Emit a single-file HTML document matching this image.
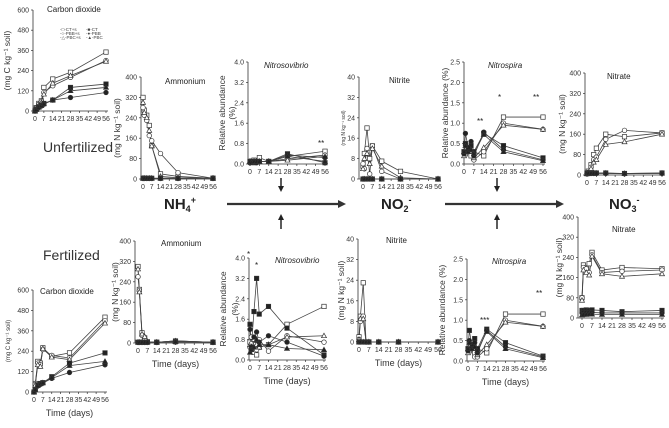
<!DOCTYPE html>
<html><head><meta charset="utf-8">
<style>
html,body{margin:0;padding:0;background:#fff;}
svg{display:block;font-family:"Liberation Sans",Arial,sans-serif;}
</style></head>
<body>
<svg id="fig" width="669" height="428" viewBox="0 0 669 428" xmlns="http://www.w3.org/2000/svg">
<g id="static" fill="#222">
<text x="43" y="152" font-size="14" fill="#333">Unfertilized</text>
<text x="43" y="260" font-size="14" fill="#333">Fertilized</text>
<text x="164" y="209" font-size="15" font-weight="bold">NH<tspan font-size="9" dy="3">4</tspan><tspan font-size="9" dy="-9">+</tspan></text>
<text x="381" y="209" font-size="15" font-weight="bold">NO<tspan font-size="9" dy="3">2</tspan><tspan font-size="9" dy="-9">-</tspan></text>
<text x="609" y="209" font-size="15" font-weight="bold">NO<tspan font-size="9" dy="3">3</tspan><tspan font-size="9" dy="-9">-</tspan></text>
<g><line x1="227" y1="204" x2="340" y2="204" stroke="#333" stroke-width="2.2"/><polygon points="346,204 338,200 338,208" fill="#333"/></g>
<g><line x1="445" y1="204" x2="558" y2="204" stroke="#333" stroke-width="2.2"/><polygon points="564,204 556,200 556,208" fill="#333"/></g>
<g><line x1="281" y1="178" x2="281" y2="187" stroke="#333" stroke-width="1.6"/><polygon points="281,192 278,186 284,186"/></g>
<g><line x1="281" y1="219" x2="281" y2="229" stroke="#333" stroke-width="1.6"/><polygon points="281,214 278,220 284,220"/></g>
<g><line x1="497" y1="178" x2="497" y2="187" stroke="#333" stroke-width="1.6"/><polygon points="497,192 494,186 500,186"/></g>
<g><line x1="497" y1="219" x2="497" y2="229" stroke="#333" stroke-width="1.6"/><polygon points="497,214 494,220 500,220"/></g>
<g font-size="8">
<text x="318" y="146">**</text>
<text x="477" y="124">**</text>
<text x="498" y="100">*</text>
<text x="533" y="100">**</text>
<text x="247" y="257">*</text>
<text x="255" y="268">*</text>
<text x="480" y="323">***</text>
<text x="536" y="296">**</text>
</g>
<g font-size="4.5" fill="#444">
<text x="60" y="31">-□-CT+s</text><text x="86" y="31">-■-CT</text>
<text x="60" y="35">-○-PBB+s</text><text x="86" y="35">-●-PBB</text>
<text x="60" y="39">-△-PBC+s</text><text x="86" y="39">-▲-PBC</text>
</g>
</g>
<g id="charts"></g>
</svg>
<script>
const days = [0, 1, 3, 5, 7, 14, 28, 56];
const seriesNames = ["CT+s", "PBB+s", "PBC+s", "CT", "PBB", "PBC"];
const xTickLabels = [0, 7, 14, 21, 28, 35, 42, 49, 56];

const co2U_CTs = [0, 20, 45, 60, 140, 190, 230, 350];
const co2U_PBBs = [0, 18, 40, 55, 110, 150, 200, 300];
const co2U_PBCs = [0, 15, 35, 50, 100, 165, 210, 295];
const co2U_CT = [0, 10, 25, 35, 45, 65, 140, 160];
const co2U_PBB = [0, 8, 20, 30, 40, 65, 80, 110];
const co2U_PBC = [0, 9, 22, 32, 42, 65, 120, 140];

const nh4U_CTs = [320, 270, 250, 210, 130, 20, 10, 3];
const nh4U_PBBs = [280, 250, 230, 170, 150, 100, 25, 3];
const nh4U_PBCs = [300, 260, 240, 190, 130, 10, 5, 3];
const nh4U_CT = [3, 3, 3, 3, 3, 3, 3, 3];
const nh4U_PBB = [2, 2, 2, 2, 2, 2, 2, 2];
const nh4U_PBC = [3, 3, 3, 3, 3, 3, 3, 3];

const nvU_CTs = [0.1, 0.1, 0.15, 0.1, 0.25, 0.1, 0.3, 0.5];
const nvU_PBBs = [0.05, 0.1, 0.1, 0.1, 0.1, 0.1, 0.2, 0.35];
const nvU_PBCs = [0.1, 0.05, 0.1, 0.1, 0.1, 0.1, 0.15, 0.3];
const nvU_CT = [0.1, 0.1, 0.05, 0.1, 0.1, 0.1, 0.4, 0.05];
const nvU_PBB = [0.05, 0.1, 0.1, 0.05, 0.1, 0.1, 0.35, 0.25];
const nvU_PBC = [0.1, 0.05, 0.1, 0.1, 0.1, 0.1, 0.3, 0.1];

const no2U_CTs = [5, 10, 20, 8, 13, 7, 3, 0];
const no2U_PBBs = [6, 4, 12, 2, 13, 3, 0, 0];
const no2U_PBCs = [4, 8, 10, 6, 12, 5, 0.5, 0];
const no2U_CT = [0, 0, 0, 0, 0, 0, 0, 0];
const no2U_PBB = [0, 0, 0, 0, 0, 0, 0, 0];
const no2U_PBC = [0, 0, 0, 0, 0, 0, 0, 0];

const nsU_CTs = [0.3, 0.25, 0.4, 0.2, 0.3, 0.2, 1.15, 1.15];
const nsU_PBBs = [0.25, 0.3, 0.3, 0.35, 0.1, 0.3, 1.0, 0.85];
const nsU_PBCs = [0.2, 0.35, 0.35, 0.3, 0.15, 0.4, 0.95, 0.85];
const nsU_CT = [0.3, 0.5, 0.35, 0.45, 0.3, 0.75, 0.45, 0.15];
const nsU_PBB = [0.25, 0.75, 0.4, 0.55, 0.2, 0.78, 0.35, 0.1];
const nsU_PBC = [0.3, 0.45, 0.3, 0.35, 0.25, 0.72, 0.3, 0.08];

const no3U_CTs = [5, 15, 40, 80, 105, 160, 150, 165];
const no3U_PBBs = [5, 10, 30, 60, 70, 140, 175, 165];
const no3U_PBCs = [5, 8, 25, 50, 60, 120, 130, 160];
const no3U_CT = [8, 8, 8, 8, 8, 8, 6, 8];
const no3U_PBB = [6, 6, 6, 6, 6, 6, 5, 6];
const no3U_PBC = [7, 7, 7, 7, 7, 7, 6, 7];

const co2F_CTs = [0, 50, 180, 170, 260, 210, 230, 440];
const co2F_PBBs = [0, 45, 170, 160, 250, 215, 200, 420];
const co2F_PBCs = [0, 40, 160, 150, 255, 205, 190, 405];
const co2F_CT = [0, 15, 40, 50, 55, 90, 170, 230];
const co2F_PBB = [0, 12, 35, 45, 52, 80, 115, 160];
const co2F_PBC = [0, 13, 38, 48, 54, 85, 155, 180];

const nh4F_CTs = [300, 210, 40, 20, 5, 3, 8, 3];
const nh4F_PBBs = [260, 205, 30, 15, 3, 3, 8, 3];
const nh4F_PBCs = [290, 200, 35, 25, 5, 3, 8, 3];
const nh4F_CT = [3, 3, 3, 3, 3, 3, 5, 3];
const nh4F_PBB = [2, 2, 2, 2, 2, 2, 4, 2];
const nh4F_PBC = [3, 3, 3, 3, 3, 3, 5, 3];

const nvF_CTs = [0.7, 0.5, 0.3, 0.2, 0.5, 0.6, 1.4, 2.1];
const nvF_PBBs = [0.5, 0.9, 0.6, 0.4, 0.8, 0.35, 0.95, 0.7];
const nvF_PBCs = [0.6, 0.7, 0.8, 0.6, 0.5, 0.6, 0.9, 0.95];
const nvF_CT = [1.4, 0.5, 1.9, 3.2, 1.8, 2.1, 1.25, 0.2];
const nvF_PBB = [1.2, 0.4, 0.9, 1.1, 0.7, 0.95, 0.7, 0.15];
const nvF_PBC = [0.3, 0.4, 0.5, 0.8, 0.6, 0.6, 0.45, 0.4];

const no2F_CTs = [2, 10, 23, 0, 0, 0, 0, 0];
const no2F_PBBs = [1, 8, 10, 0, 0, 0, 0, 0];
const no2F_PBCs = [1, 9, 9, 0, 0, 0, 0, 0];
const no2F_CT = [0, 0, 0, 0, 0, 0, 0, 0];
const no2F_PBB = [0, 0, 0, 0, 0, 0, 0, 0];
const no2F_PBC = [0, 0, 0, 0, 0, 0, 0, 0];

const nsF_CTs = [0.3, 0.25, 0.4, 0.2, 0.3, 0.2, 1.15, 1.15];
const nsF_PBBs = [0.25, 0.3, 0.3, 0.1, 0.1, 0.3, 1.0, 0.85];
const nsF_PBCs = [0.2, 0.35, 0.35, 0.3, 0.15, 0.4, 0.95, 0.85];
const nsF_CT = [0.3, 0.75, 0.35, 0.55, 0.3, 0.78, 0.45, 0.12];
const nsF_PBB = [0.25, 0.5, 0.4, 0.45, 0.2, 0.75, 0.35, 0.1];
const nsF_PBC = [0.3, 0.45, 0.3, 0.35, 0.25, 0.72, 0.3, 0.08];

const no3F_CTs = [80, 210, 200, 215, 260, 190, 200, 195];
const no3F_PBBs = [80, 200, 195, 180, 250, 180, 185, 190];
const no3F_PBCs = [70, 190, 180, 170, 245, 175, 165, 175];
const no3F_CT = [30, 30, 32, 30, 32, 30, 25, 30];
const no3F_PBB = [20, 22, 22, 22, 22, 20, 20, 20];
const no3F_PBC = [12, 14, 14, 15, 15, 14, 14, 14];

const NS = "http://www.w3.org/2000/svg";
const root = document.getElementById("charts");
function el(tag, attrs, parent) {
  const e = document.createElementNS(NS, tag);
  for (const k in attrs) e.setAttribute(k, attrs[k]);
  parent.appendChild(e);
  return e;
}
function marker(g, shape, filled, x, y) {
  const fill = filled ? "#222" : "#fff";
  const st = {fill: fill, stroke: "#333", "stroke-width": 0.7};
  let m;
  if (shape === 0) m = el("rect", Object.assign({x: x - 2.2, y: y - 2.2, width: 4.4, height: 4.4}, st), g);
  else if (shape === 1) m = el("circle", Object.assign({cx: x, cy: y, r: 2.3}, st), g);
  else m = el("polygon", Object.assign({points: (x) + "," + (y - 2.6) + " " + (x - 2.5) + "," + (y + 1.9) + " " + (x + 2.5) + "," + (y + 1.9)}, st), g);
  return m;
}
function panel(cfg, series) {
  const g = el("g", {}, root);
  
  
  const xs = d => cfg.xl + (d / 56) * (cfg.xr - cfg.xl);
  const ys = v => cfg.yb - (v / cfg.ymax) * (cfg.yb - cfg.yt);
  const ax = el("line", {x1: cfg.ax, y1: cfg.yt, x2: cfg.ax, y2: cfg.yb, stroke: "#333", "stroke-width": 0.8}, g);
  
  
  const xa = el("line", {x1: cfg.ax, y1: cfg.yb, x2: cfg.xr + 2, y2: cfg.yb, stroke: "#333", "stroke-width": 0.8}, g);
  
  
  const nT = Math.round(cfg.ymax / cfg.ystep);
  for (let i = 0; i <= nT; i++) {
    const v = i * cfg.ystep, y = ys(v);
    el("line", {x1: cfg.ax - 2, y1: y, x2: cfg.ax, y2: y, stroke: "#333", "stroke-width": 0.7}, g);
    const t = el("text", {x: cfg.ax - 4, y: y + 2.5, "font-size": 7, "text-anchor": "end", fill: "#333"}, g);
    t.textContent = cfg.dec ? v.toFixed(1) : String(Math.round(v));
    
    
  }
  xTickLabels.forEach(d => {
    const x = xs(d);
    el("line", {x1: x, y1: cfg.yb, x2: x, y2: cfg.yb + 2, stroke: "#333", "stroke-width": 0.7}, g);
    const t = el("text", {x: x, y: cfg.yb + 10, "font-size": 7, "text-anchor": "middle", fill: "#333"}, g);
    t.textContent = d;
    
    
  });
  const tt = el("text", {x: cfg.tx, y: cfg.ty, "font-size": 8, fill: "#222", "font-style": cfg.italic ? "italic" : "normal"}, g);
  tt.textContent = cfg.title;
  
  
  if (cfg.ylab) {
    const yl = el("text", {x: 0, y: 0, "font-size": cfg.ylfs || 8.5, fill: "#333", "text-anchor": "middle", transform: "translate(" + cfg.ylx + "," + ((cfg.yt + cfg.yb) / 2) + ") rotate(-90)"}, g);
    yl.textContent = cfg.ylab;
    
    
  }
  if (cfg.ylab2) {
    const yl = el("text", {x: 0, y: 0, "font-size": 8.5, fill: "#333", "text-anchor": "middle", transform: "translate(" + cfg.ylx2 + "," + ((cfg.yt + cfg.yb) / 2) + ") rotate(-90)"}, g);
    yl.textContent = cfg.ylab2;
    
    
  }
  if (cfg.xlab) {
    const xl = el("text", {x: (cfg.xl + cfg.xr) / 2, y: cfg.yb + 24, "font-size": 9, fill: "#333", "text-anchor": "middle"}, g);
    xl.textContent = "Time (days)";
    
    
  }
  series.forEach((vals, si) => {
    const pts = vals.map((v, i) => xs(days[i]) + "," + ys(v)).join(" ");
    const line = el("polyline", {points: pts, fill: "none", stroke: "#444", "stroke-width": 0.8}, g);
    
    
  });
  series.forEach((vals, si) => {
    vals.forEach((v, i) => {
      const m = marker(g, si % 3, si >= 3, xs(days[i]), ys(v));
      
      
    });
  });
}

panel({name: "co2-unfertilized", ax: 33, yt: 10, yb: 111, xl: 35, xr: 106, ymax: 600, ystep: 120, title: "Carbon dioxide", tx: 47, ty: 12, ylab: "(mg C kg⁻¹ soil)", ylx: 10},
  [co2U_CTs, co2U_PBBs, co2U_PBCs, co2U_CT, co2U_PBB, co2U_PBC]);
panel({name: "ammonium-unfertilized", ax: 141, yt: 77, yb: 179, xl: 143, xr: 213, ymax: 400, ystep: 80, title: "Ammonium", tx: 165, ty: 84, ylab: "(mg N kg⁻¹ soil)", ylx: 120},
  [nh4U_CTs, nh4U_PBBs, nh4U_PBCs, nh4U_CT, nh4U_PBB, nh4U_PBC]);
panel({name: "nitrosovibrio-unfertilized", ax: 248, yt: 62, yb: 164, xl: 250, xr: 325, ymax: 4, ystep: 0.8, dec: true, title: "Nitrosovibrio", italic: true, tx: 264, ty: 68, ylab: "Relative abundance", ylx: 225, ylab2: "(%)", ylx2: 235},
  [nvU_CTs, nvU_PBBs, nvU_PBCs, nvU_CT, nvU_PBB, nvU_PBC]);
panel({name: "nitrite-unfertilized", ax: 359, yt: 77, yb: 179, xl: 363, xr: 438, ymax: 40, ystep: 8, title: "Nitrite", tx: 389, ty: 83, ylab: "(mg N kg⁻¹ soil)", ylx: 345, ylfs: 5},
  [no2U_CTs, no2U_PBBs, no2U_PBCs, no2U_CT, no2U_PBB, no2U_PBC]);
panel({name: "nitrospira-unfertilized", ax: 464, yt: 62, yb: 164, xl: 464, xr: 543, ymax: 2.5, ystep: 0.5, dec: true, title: "Nitrospira", italic: true, tx: 488, ty: 68, ylab: "Relative abundance (%)", ylx: 448},
  [nsU_CTs, nsU_PBBs, nsU_PBCs, nsU_CT, nsU_PBB, nsU_PBC]);
panel({name: "nitrate-unfertilized", ax: 585, yt: 73, yb: 175, xl: 587, xr: 662, ymax: 400, ystep: 80, title: "Nitrate", tx: 607, ty: 79, ylab: "(mg N kg⁻¹ soil)", ylx: 565},
  [no3U_CTs, no3U_PBBs, no3U_PBCs, no3U_CT, no3U_PBB, no3U_PBC]);

panel({name: "co2-fertilized", ax: 33, yt: 290, yb: 392, xl: 34, xr: 105, ymax: 600, ystep: 120, title: "Carbon dioxide", tx: 40, ty: 294, ylab: "(mg C kg⁻¹ soil)", ylx: 10, ylfs: 6, xlab: true},
  [co2F_CTs, co2F_PBBs, co2F_PBCs, co2F_CT, co2F_PBB, co2F_PBC]);
panel({name: "ammonium-fertilized", ax: 135, yt: 241, yb: 343, xl: 138, xr: 213, ymax: 400, ystep: 80, title: "Ammonium", tx: 161, ty: 246, ylab: "(mg N kg⁻¹ soil)", ylx: 118, xlab: true},
  [nh4F_CTs, nh4F_PBBs, nh4F_PBCs, nh4F_CT, nh4F_PBB, nh4F_PBC]);
panel({name: "nitrosovibrio-fertilized", ax: 249, yt: 258, yb: 360, xl: 250, xr: 324, ymax: 4, ystep: 0.8, dec: true, title: "Nitrosovibrio", italic: true, tx: 275, ty: 263, ylab: "Relative abundance", ylx: 226, ylab2: "(%)", ylx2: 238, xlab: true},
  [nvF_CTs, nvF_PBBs, nvF_PBCs, nvF_CT, nvF_PBB, nvF_PBC]);
panel({name: "nitrite-fertilized", ax: 358, yt: 239, yb: 342, xl: 359, xr: 438, ymax: 40, ystep: 8, title: "Nitrite", tx: 386, ty: 243, ylab: "(mg N kg⁻¹ soil)", ylx: 344, xlab: true},
  [no2F_CTs, no2F_PBBs, no2F_PBCs, no2F_CT, no2F_PBB, no2F_PBC]);
panel({name: "nitrospira-fertilized", ax: 467, yt: 259, yb: 361, xl: 468, xr: 543, ymax: 2.5, ystep: 0.5, dec: true, title: "Nitrospira", italic: true, tx: 492, ty: 264, ylab: "Relative abundance (%)", ylx: 445, xlab: true},
  [nsF_CTs, nsF_PBBs, nsF_PBCs, nsF_CT, nsF_PBB, nsF_PBC]);
panel({name: "nitrate-fertilized", ax: 578, yt: 217, yb: 318, xl: 582, xr: 662, ymax: 400, ystep: 80, title: "Nitrate", tx: 612, ty: 232, ylab: "(mg N kg⁻¹ soil)", ylx: 562},
  [no3F_CTs, no3F_PBBs, no3F_PBCs, no3F_CT, no3F_PBB, no3F_PBC]);
</script>
</body></html>
